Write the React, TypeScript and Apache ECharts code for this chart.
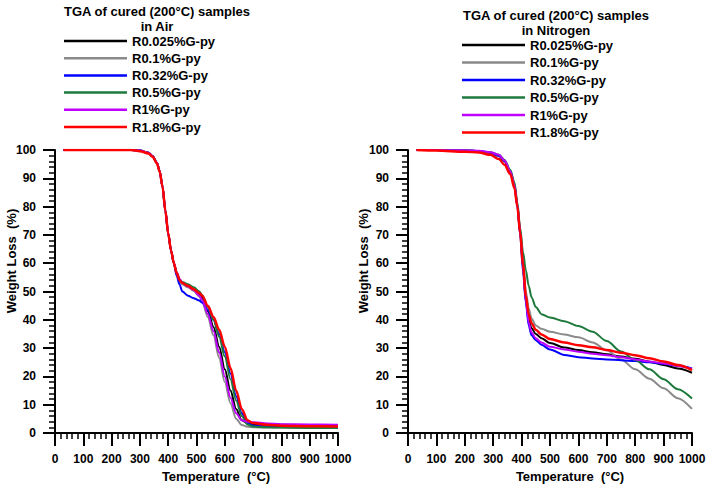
import React, { useEffect, useRef } from "react";
import * as echarts from "echarts";

const seriesNames = ["R0.025%G-py", "R0.1%G-py", "R0.32%G-py", "R0.5%G-py", "R1%G-py", "R1.8%G-py"];
const seriesColors = ["#000000", "#8a8a8a", "#0000ff", "#1e7a3c", "#c000ff", "#ff0000"];

const xTicks = [0, 100, 200, 300, 400, 500, 600, 700, 800, 900, 1000];
const yTicks = [0, 10, 20, 30, 40, 50, 60, 70, 80, 90, 100];

// Air
const airTemps = [30, 100, 200, 270, 300, 330, 345, 360, 370, 380, 390, 400, 410, 420, 430, 440, 450, 470, 490, 510, 520, 540, 560, 580, 600, 620, 640, 660, 680, 700, 750, 800, 900, 1000];
const airBlack = [100, 100, 100, 100, 99.8, 99, 97.8, 95.5, 92.5, 87, 78.5, 70.5, 64.5, 60, 56.5, 54, 53, 52, 50.8, 49, 47.8, 43, 37.5, 30.5, 22.5, 15, 8.5, 4.5, 3.5, 3.2, 3, 2.9, 2.8, 2.8];
const airGray = [100, 100, 100, 100, 99.8, 99, 97.8, 95.5, 92.5, 87, 78.5, 70.5, 64.5, 60, 56.3, 53.5, 52.5, 51.5, 50.2, 48.2, 46.5, 41, 34.5, 26.5, 18, 10.5, 5, 2.8, 2.2, 2, 1.9, 1.9, 1.8, 1.8];
const airBlue = [100, 100, 100, 100, 99.8, 99, 97.8, 95.5, 92.5, 87, 78.5, 70.5, 64.5, 60, 55.5, 52.5, 50, 48.5, 47.6, 46.8, 46, 43.5, 40, 35, 28.5, 21, 13, 7, 3.5, 2.6, 2.4, 2.4, 2.3, 2.3];
const airGreen = [100, 100, 100, 100, 99.8, 99, 97.8, 95.5, 92.5, 87, 78.5, 70.5, 64.5, 60, 56.8, 54.3, 53.4, 52.6, 51.5, 50, 48.8, 44.5, 40, 34, 27, 19, 11.5, 6, 3, 2.3, 2, 1.9, 1.8, 1.8];
const airPurple = [100, 100, 100, 100, 99.8, 99, 97.8, 95.5, 92.5, 87, 78.5, 70.5, 64.5, 60, 56.8, 54.5, 53, 51.8, 50.5, 48.5, 47, 42, 36, 28.5, 20, 12.5, 7, 4.5, 4, 3.8, 3.4, 3.1, 3, 2.9];
const airRed = [100, 100, 100, 100, 99.6, 98.8, 97.6, 95.3, 92.3, 87, 78.5, 70.5, 64.5, 60, 56.5, 54, 53, 52, 50.8, 49.5, 48.5, 45, 41, 36.5, 30.5, 23, 15, 8.5, 4.5, 3.5, 2.9, 2.6, 2.4, 2.3];

// Nitrogen
const n2Temps = [30, 100, 200, 250, 290, 320, 340, 360, 375, 385, 395, 405, 415, 425, 435, 450, 470, 500, 550, 600, 650, 700, 750, 800, 850, 900, 950, 1000];
const n2Black = [100, 100, 99.8, 99.6, 99, 98, 96, 92.5, 87.5, 80.5, 71, 59, 47, 40, 37, 35, 33.5, 31.8, 30.2, 29.3, 28.5, 27.8, 27, 26.2, 25.2, 24, 22.8, 21.3];
const n2Gray = [100, 100, 99.8, 99.6, 99, 98, 96, 92.5, 87.5, 80.5, 71.5, 60, 50, 44, 40.5, 38, 36.8, 35.8, 34.8, 33.8, 32, 29.2, 26, 22.5, 19.2, 15.8, 12.3, 8.5];
const n2Blue = [100, 100, 99.8, 99.6, 99, 98, 96, 92.5, 87.5, 80, 70, 57, 46, 38, 34.5, 32.8, 31.2, 29.5, 27.6, 26.8, 26.3, 26, 25.7, 25.4, 25, 24.5, 23.8, 22.8];
const n2Green = [100, 100, 99.8, 99.6, 99.2, 98.3, 96.5, 93, 88.5, 81.5, 72.5, 64, 57.5, 52, 48, 44.5, 42, 40.8, 39.5, 37.8, 35.8, 32.5, 28.8, 25.8, 22.5, 19, 15.5, 12.2];
const n2Purple = [100, 100, 99.9, 99.7, 99.2, 98.3, 96.3, 92.5, 87.5, 80.5, 71, 59, 46.5, 39, 35.5, 33.5, 32, 30.5, 29.5, 28.7, 28, 27.5, 26.8, 26, 25.3, 24.6, 23.7, 22.6];
const n2Red = [100, 99.8, 99.4, 99.1, 98.3, 96.8, 94.8, 91.5, 86.5, 80, 70.5, 59.5, 48.5, 42, 38.8, 36.5, 34.8, 33.2, 32, 31, 30.3, 29.3, 28.4, 27.5, 26.4, 25.3, 24, 22.2];

const airSets = [airBlack, airGray, airBlue, airGreen, airPurple, airRed];
const n2Sets = [n2Black, n2Gray, n2Blue, n2Green, n2Purple, n2Red];

const FONT = "'Liberation Sans', Arial, sans-serif";

function makeX(gridIndex: number) {
  return {
    type: "value",
    gridIndex,
    min: xTicks[0],
    max: xTicks[xTicks.length - 1],
    interval: 100,
    axisLine: { show: true, onZero: false, lineStyle: { color: "#000", width: 2 } },
    axisTick: { show: true, length: 13, lineStyle: { color: "#000", width: 2 } },
    minorTick: { show: true, splitNumber: 5, length: 6, lineStyle: { color: "#000", width: 1.5 } },
    splitLine: { show: false },
    axisLabel: {
      color: "#000",
      fontSize: 12,
      fontWeight: "bold",
      fontFamily: FONT,
      margin: 20,
      formatter: (v: number) => String(v),
    },
  };
}

function makeY(gridIndex: number) {
  return {
    type: "value",
    gridIndex,
    min: yTicks[0],
    max: yTicks[yTicks.length - 1],
    interval: 10,
    axisLine: { show: true, onZero: false, lineStyle: { color: "#000", width: 2 } },
    axisTick: { show: true, length: 12, lineStyle: { color: "#000", width: 2 } },
    minorTick: { show: true, splitNumber: 5, length: 6, lineStyle: { color: "#000", width: 1.5 } },
    splitLine: { show: false },
    axisLabel: {
      color: "#000",
      fontSize: 12,
      fontWeight: "bold",
      fontFamily: FONT,
      margin: 19,
      formatter: (v: number) => String(v),
    },
  };
}

function txt(text: string, x: number, y: number, size: number, rotation = 0) {
  return {
    type: "text",
    x,
    y,
    rotation,
    style: {
      text,
      fill: "#000",
      font: `bold ${size}px ${FONT}`,
      align: "center",
      verticalAlign: "middle",
    },
  };
}

export default function App() {
  const ref = useRef<HTMLDivElement>(null);
  useEffect(() => {
    if (!ref.current) return;
    const chart = echarts.init(ref.current, null, { renderer: "svg" });
    const series: any[] = [];
    seriesNames.forEach((name, i) => {
      series.push({
        name,
        type: "line",
        xAxisIndex: 0,
        yAxisIndex: 0,
        showSymbol: false,
        symbol: "none",
        smooth: 0.3,
        smoothMonotone: "x",
        lineStyle: { color: seriesColors[i], width: i === 5 ? 2.5 : 2 },
        itemStyle: { color: seriesColors[i] },
        data: airTemps.map((t, k) => [t, airSets[i][k]]),
      });
    });
    seriesNames.forEach((name, i) => {
      series.push({
        name,
        type: "line",
        xAxisIndex: 1,
        yAxisIndex: 1,
        showSymbol: false,
        symbol: "none",
        smooth: 0.3,
        smoothMonotone: "x",
        lineStyle: { color: seriesColors[i], width: i === 5 ? 2.5 : 2 },
        itemStyle: { color: seriesColors[i] },
        data: n2Temps.map((t, k) => [t, n2Sets[i][k]]),
      });
    });
    const legendBase = {
      orient: "vertical",
      icon: "rect",
      itemWidth: 63,
      itemHeight: 2.5,
      padding: 0,
      selectedMode: false,
      textStyle: { color: "#000", fontSize: 13, fontWeight: "bold", fontFamily: FONT },
      data: seriesNames,
    };
    chart.setOption({
      animation: false,
      backgroundColor: "#ffffff",
      grid: [
        { left: 55, top: 150, width: 283, height: 283 },
        { left: 408, top: 150, width: 284, height: 283 },
      ],
      xAxis: [makeX(0), makeX(1)],
      yAxis: [makeY(0), makeY(1)],
      legend: [
        { ...legendBase, left: 64, top: 34.5, itemGap: 4.2 },
        { ...legendBase, left: 462, top: 38.5, itemGap: 4.5 },
      ],
      graphic: [
        txt("TGA of cured (200°C) samples", 157, 11.5, 13),
        txt("in Air", 157, 26.5, 13),
        txt("TGA of cured (200°C) samples", 556, 15.5, 13),
        txt("in Nitrogen", 556, 30.5, 13),
        txt("Temperature  (°C)", 216, 476, 13),
        txt("Temperature  (°C)", 570, 476, 13),
        txt("Weight Loss  (%)", 11, 261, 13, Math.PI / 2),
        txt("Weight Loss  (%)", 363, 261, 13, Math.PI / 2),
      ],
      series,
    });
    return () => chart.dispose();
  }, []);
  return <div ref={ref} style={{ position: "fixed", left: 0, top: 0, width: 712, height: 491 }} />;
}
